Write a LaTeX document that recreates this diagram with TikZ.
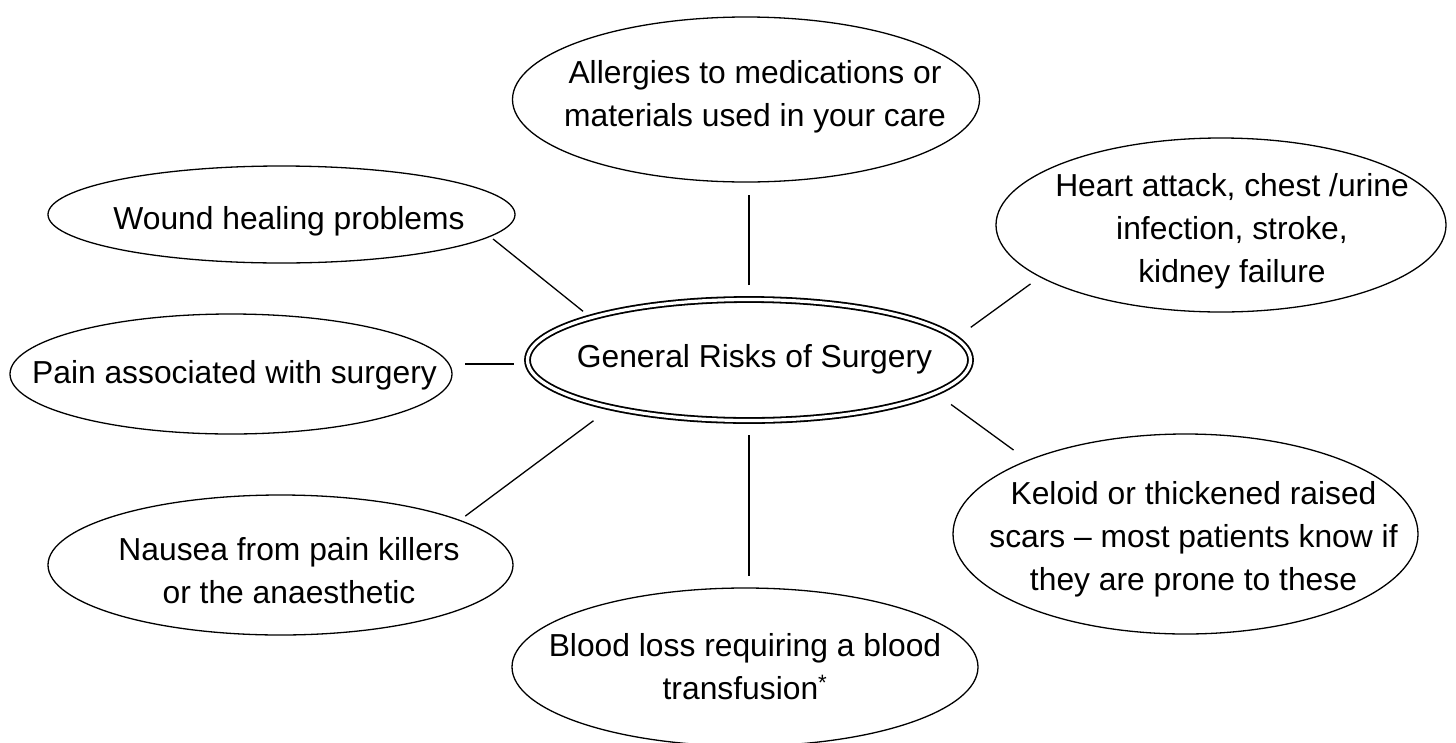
\documentclass[tikz,border=0pt]{standalone}
\usepackage{fontspec}
\setmainfont{Liberation Sans}
\usetikzlibrary{shapes.geometric}
\begin{document}
\begin{tikzpicture}[x=1pt,y=-1pt,
  bubble/.style={ellipse, draw, line width=1.3pt, inner sep=0pt, outer sep=0pt},
  txt/.style={font=\fontsize{31.8}{43}\selectfont, align=center, inner sep=0pt},
  link/.style={line width=1.3pt}]
\fill[white] (0,0) rectangle (1456,742);
\useasboundingbox (0,0) rectangle (1456,742);
% ellipses
\node[bubble, minimum width=467pt, minimum height=165pt] (top) at (746,99.5) {};
\node[txt] (topT) at (755,96.7) {Allergies to medications or\\materials used in your care};
\node[bubble, minimum width=467pt, minimum height=97pt] (wound) at (281.5,214.5) {};
\node[txt, anchor=base] (woundT) at (289,229) {Wound healing problems};
\node[bubble, minimum width=442pt, minimum height=120pt] (pain) at (231,374) {};
\node[txt, anchor=base] (painT) at (234.5,383) {Pain associated with surgery};
\node[bubble, minimum width=465pt, minimum height=140pt] (nausea) at (280.5,565) {};
\node[txt] (nauseaT) at (289,571) {Nausea from pain killers\\or the anaesthetic};
\node[bubble, double, line width=1.8pt, double distance=3.2pt, minimum width=443pt, minimum height=121pt] (main) at (749,360) {};
\node[txt, anchor=base] (mainT) at (754.5,367) {General Risks of Surgery};
\node[bubble, minimum width=450pt, minimum height=174pt] (heart) at (1221,225) {};
\node[txt] (heartT) at (1232,231.4) {Heart attack, chest /urine\\infection, stroke,\\kidney failure};
\node[bubble, minimum width=465pt, minimum height=200pt] (keloid) at (1185.5,534) {};
\node[txt] (keloidT) at (1193.5,539.4) {Keloid or thickened raised\\scars – most patients know if\\they are prone to these};
\node[bubble, minimum width=466pt, minimum height=158pt] (blood) at (745,667) {};
\node[txt] (bloodT) at (745,667) {Blood loss requiring a blood\\transfusion\textsuperscript{*}};
% connectors
\draw[link, shorten <=14.5pt, shorten >=13pt] (main.north) -- (main.north |- top.south);
\draw[link, shorten <=14.5pt, shorten >=12pt] (main.south) -- (main.south |- blood.north);
\draw[link, shorten <=14pt, shorten >=13pt] (main.181.04) -- (main.181.04 -| pain.east);
\draw[link, shorten <=10.1pt, shorten >=4.2pt] (main.165.8) -- (wound.354.75);
\draw[link, shorten <=18.6pt, shorten >=12.1pt] (main.6.3) -- (heart.196.7);
\draw[link, shorten <=19.8pt, shorten >=17.75pt] (main.350.36) -- (keloid.155.2);
\draw[link, shorten <=22.35pt, shorten >=7.15pt] (main.199.4) -- (nausea.14.07);
\end{tikzpicture}
\end{document}
